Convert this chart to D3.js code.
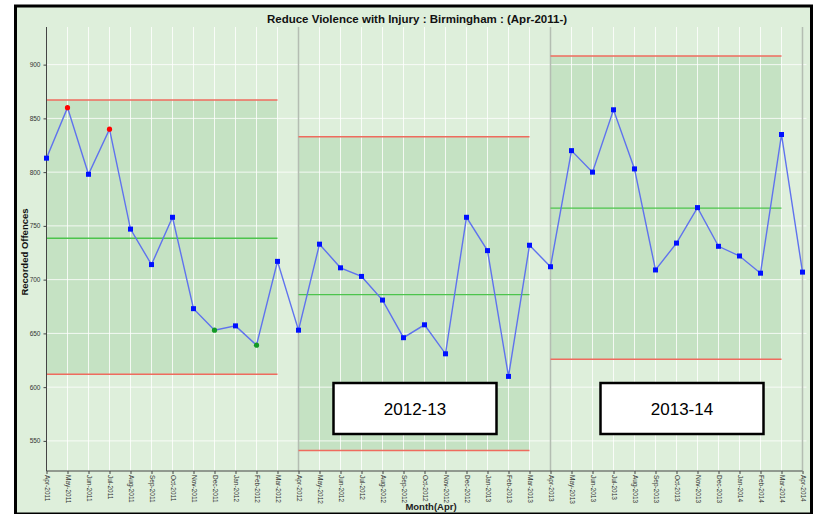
<!DOCTYPE html>
<html>
<head>
<meta charset="utf-8">
<script src="https://cdn.jsdelivr.net/npm/d3@7"></script>
<style>
  body { margin: 0; background: #fff; }
  svg { display: block; font-family: "Liberation Sans", Arial, sans-serif; }
</style>
</head>
<body>
<svg id="chart" width="817" height="514"></svg>
<script>
var months = ['Apr-2011','May-2011','Jun-2011','Jul-2011','Aug-2011','Sep-2011','Oct-2011','Nov-2011','Dec-2011','Jan-2012','Feb-2012','Mar-2012',
  'Apr-2012','May-2012','Jun-2012','Jul-2012','Aug-2012','Sep-2012','Oct-2012','Nov-2012','Dec-2012','Jan-2013','Feb-2013','Mar-2013',
  'Apr-2013','May-2013','Jun-2013','Jul-2013','Aug-2013','Sep-2013','Oct-2013','Nov-2013','Dec-2013','Jan-2014','Feb-2014','Mar-2014','Apr-2014'];
var offences = [813,860,798,840,747,714,758,673,653,657,639,717,
  653,733,711,703,681,646,658,631,758,727,610,732,
  712,820,800,858,803,709,734,767,731,722,706,835,707];
// point flags: r = above rule (red), g = below rule (green), b = normal
var flags = ['b','r','b','r','b','b','b','b','g','b','g','b',
  'b','b','b','b','b','b','b','b','b','b','b','b',
  'b','b','b','b','b','b','b','b','b','b','b','b','b'];
var periodStart = ['Apr-2011','Apr-2012','Apr-2013'];
var periodEnd = ['Mar-2012','Mar-2013','Mar-2014'];
var ucl = [867,833,908];
var meanVals = [738.5,686,766.5];
var lcl = [612,541,626];
var boxLabels = ['2012-13', '2013-14'];
var yTicks = [550,600,650,700,750,800,850,900];

(function() {
  var svg = d3.select('#chart');
  var pLeft = 46.5, pRight = 802.5, pTop = 27, pBottom = 471;

  // frame
  svg.append('rect').attr('x', 15.5).attr('y', 6).attr('width', 796).attr('height', 508)
    .attr('fill', '#deefdb').attr('stroke', '#000').attr('stroke-width', 3);

  var x = d3.scalePoint().domain(months).range([pLeft, pRight]);
  var y = d3.scaleLinear().domain([522, 935]).range([pBottom, pTop]);

  // shaded periods
  var periods = d3.range(3);
  svg.append('g').selectAll('rect').data(periods).enter().append('rect')
    .attr('x', function(i) { return x(periodStart[i]); })
    .attr('width', function(i) { return x(periodEnd[i]) - x(periodStart[i]); })
    .attr('y', function(i) { return y(ucl[i]); })
    .attr('height', function(i) { return y(lcl[i]) - y(ucl[i]); })
    .attr('fill', '#c5e2c3');

  // grid
  var grid = svg.append('g');
  grid.selectAll('line.v').data(months).enter().append('line')
    .attr('x1', function(d) { return x(d); }).attr('x2', function(d) { return x(d); })
    .attr('y1', pTop).attr('y2', pBottom)
    .attr('stroke', '#fff').attr('stroke-opacity', 0.8).attr('stroke-width', 1);
  grid.selectAll('line.h').data(yTicks).enter().append('line')
    .attr('x1', pLeft).attr('x2', pRight + 4)
    .attr('y1', function(d) { return y(d); }).attr('y2', function(d) { return y(d); })
    .attr('stroke', '#fff').attr('stroke-opacity', 0.8).attr('stroke-width', 1);

  // period dividers
  svg.append('g').selectAll('line').data(['Apr-2012','Apr-2013','Apr-2014']).enter().append('line')
    .attr('x1', function(d) { return x(d); }).attr('x2', function(d) { return x(d); })
    .attr('y1', pTop).attr('y2', pBottom)
    .attr('stroke', '#b4bdb2').attr('stroke-width', 1.5);

  // limits
  var lim = svg.append('g');
  function limLine(vals, col, w) {
    lim.selectAll(null).data(periods).enter().append('line')
      .attr('x1', function(i) { return x(periodStart[i]); })
      .attr('x2', function(i) { return x(periodEnd[i]); })
      .attr('y1', function(i) { return y(vals[i]); })
      .attr('y2', function(i) { return y(vals[i]); })
      .attr('stroke', col).attr('stroke-width', w);
  }
  limLine(ucl, '#ef6b5e', 1.5);
  limLine(lcl, '#ef6b5e', 1.5);
  limLine(meanVals, '#4cc44c', 1.3);

  // axes
  var yAxis = svg.append('g').attr('transform', 'translate(' + pLeft + ',0)')
    .call(d3.axisLeft(y).tickValues(yTicks).tickSize(3).tickPadding(3));
  yAxis.select('.domain').attr('stroke', '#444').attr('d', 'M0,' + pTop + 'V' + pBottom);
  yAxis.selectAll('.tick line').attr('stroke', '#444');
  yAxis.selectAll('text').attr('font-size', 6.5).attr('fill', '#333');

  var xAxis = svg.append('g').attr('transform', 'translate(0,' + pBottom + ')')
    .call(d3.axisBottom(x).tickSize(3).tickPadding(2));
  xAxis.select('.domain').attr('stroke', '#444').attr('d', 'M' + pLeft + ',0H' + pRight);
  xAxis.selectAll('.tick line').attr('stroke', '#444');
  xAxis.selectAll('text')
    .attr('font-size', 6.5).attr('fill', '#333')
    .attr('transform', 'rotate(90)')
    .attr('text-anchor', 'start')
    .attr('x', 4).attr('y', 0).attr('dy', '0.35em');

  // series line
  var pts = months.map(function(m, i) { return { m: m, v: offences[i], f: flags[i] }; });
  svg.append('path').datum(pts)
    .attr('fill', 'none').attr('stroke', '#5f72ee').attr('stroke-width', 1.4)
    .attr('d', d3.line().x(function(d) { return x(d.m); }).y(function(d) { return y(d.v); }));

  var flagCol = { b: '#0010ff', r: '#ff0000', g: '#139a26' };
  svg.append('g').selectAll('rect').data(pts.filter(function(d) { return d.f === 'b'; })).enter().append('rect')
    .attr('x', function(d) { return x(d.m) - 2.5; }).attr('y', function(d) { return y(d.v) - 2.5; })
    .attr('width', 5).attr('height', 5).attr('fill', flagCol.b);
  svg.append('g').selectAll('circle').data(pts.filter(function(d) { return d.f !== 'b'; })).enter().append('circle')
    .attr('cx', function(d) { return x(d.m); }).attr('cy', function(d) { return y(d.v); })
    .attr('r', 2.6).attr('fill', function(d) { return flagCol[d.f]; });

  // titles
  svg.append('text').attr('x', 417).attr('y', 23).attr('text-anchor', 'middle')
    .attr('font-size', 11.5).attr('font-weight', 'bold').attr('fill', '#111')
    .text('Reduce Violence with Injury : Birmingham : (Apr-2011-)');
  svg.append('text').attr('transform', 'translate(28,252) rotate(-90)')
    .attr('text-anchor', 'middle').attr('font-size', 9.5).attr('font-weight', 'bold').attr('fill', '#111')
    .text('Recorded Offences');
  svg.append('text').attr('x', 431).attr('y', 510).attr('text-anchor', 'middle')
    .attr('font-size', 9.5).attr('font-weight', 'bold').attr('fill', '#222')
    .text('Month(Apr)');

  // period label boxes
  var boxX = [x('Apr-2012') + 35, x('Apr-2013') + 50];
  var boxes = svg.append('g').selectAll('g').data([0, 1]).enter().append('g')
    .attr('transform', function(i) { return 'translate(' + boxX[i] + ',383)'; });
  boxes.append('rect').attr('width', 163).attr('height', 51)
    .attr('fill', '#fff').attr('stroke', '#000').attr('stroke-width', 2.5);
  boxes.append('text').attr('x', 81.5).attr('y', 32).attr('text-anchor', 'middle')
    .attr('font-size', 17).attr('fill', '#000')
    .text(function(i) { return boxLabels[i]; });
})();
</script>
</body>
</html>
